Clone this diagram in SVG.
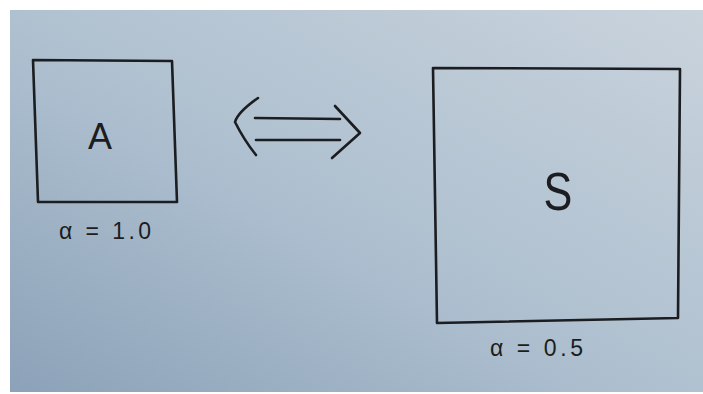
<svg xmlns="http://www.w3.org/2000/svg" width="703" height="394" viewBox="0 0 703 394">
  <defs>
    <linearGradient id="paper" x1="0" y1="1" x2="1" y2="0">
      <stop offset="0" stop-color="#8ca2b8"/>
      <stop offset="0.45" stop-color="#adbfcf"/>
      <stop offset="1" stop-color="#c9d3dc"/>
    </linearGradient>
    <style>
      .ink { fill: none; stroke: #1b1d20; stroke-width: 2.6; stroke-linecap: round; stroke-linejoin: round; }
      .txt { font-family: "Liberation Sans", "DejaVu Sans", sans-serif; fill: #1b1d20; }
    </style>
  </defs>
  <rect x="0" y="0" width="703" height="394" fill="#ffffff"/>
  <rect x="10" y="10" width="693" height="382" fill="url(#paper)"/>

  <g id="nodeA">
    <path class="ink" d="M33,60 L172,61 L177,202 L38,202 Z"/>
    <text class="txt" x="100" y="149" font-size="36" text-anchor="middle">A</text>
    <text class="txt" x="59" y="239" font-size="23" textLength="92" lengthAdjust="spacing">α = 1.0</text>
  </g>

  <g id="nodeS">
    <path class="ink" d="M433,68 L680,69 L678,318 L437,323 Z"/>
    <text class="txt" x="558" y="210" font-size="54" text-anchor="middle" transform="translate(558,190) scale(0.8,1) translate(-558,-190)">S</text>
    <text class="txt" x="490" y="356" font-size="23" textLength="93" lengthAdjust="spacing">α = 0.5</text>
  </g>

  <g id="connectors">
    <path class="ink" d="M258,98 Q238,112 235,122 Q244,140 256,155"/>
    <path class="ink" d="M255,118 L340,119"/>
    <path class="ink" d="M256,140 L340,140"/>
    <path class="ink" d="M335,106 L360,133 L332,158"/>
  </g>
</svg>
